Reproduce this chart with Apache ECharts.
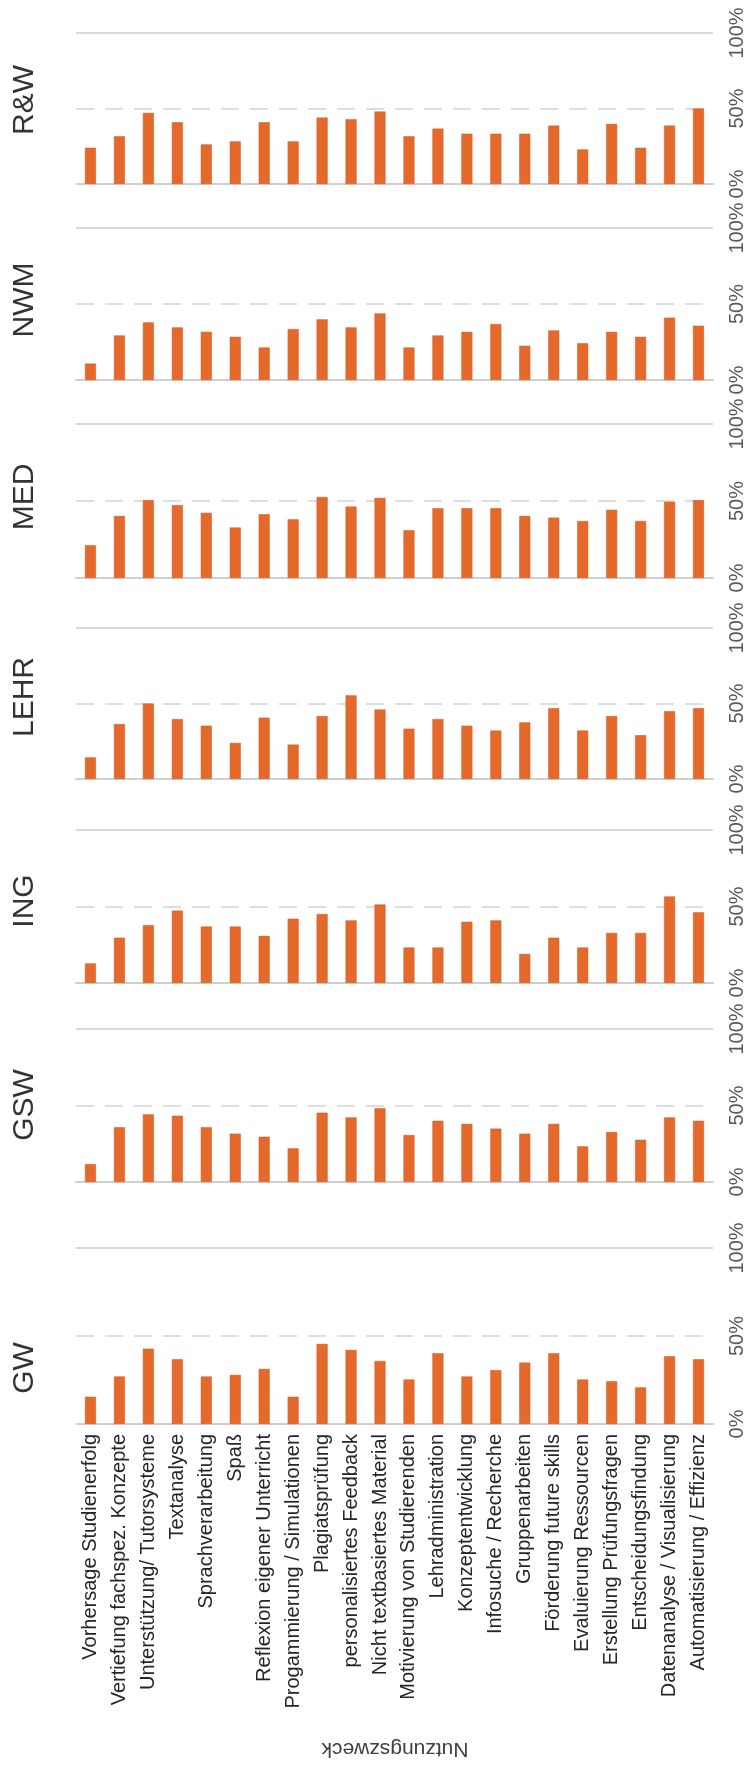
<!DOCTYPE html>
<html>
<head>
<meta charset="utf-8">
<script src="https://cdn.jsdelivr.net/npm/echarts@6/dist/echarts.min.js"></script>
<style>
html,body{margin:0;padding:0;background:#fff;}
#chart{width:750px;height:1766px;}
</style>
</head>
<body>
<div id="chart"></div>
<script>
const categories = [
  "Vorhersage Studienerfolg",
  "Vertiefung fachspez. Konzepte",
  "Unterstützung/ Tutorsysteme",
  "Textanalyse",
  "Sprachverarbeitung",
  "Spaß",
  "Reflexion eigener Unterricht",
  "Progammierung / Simulationen",
  "Plagiatsprüfung",
  "personalisiertes Feedback",
  "Nicht textbasiertes Material",
  "Motivierung von Studierenden",
  "Lehradministration",
  "Konzeptentwicklung",
  "Infosuche / Recherche",
  "Gruppenarbeiten",
  "Förderung future skills",
  "Evaluierung Ressourcen",
  "Erstellung Prüfungsfragen",
  "Entscheidungsfindung",
  "Datenanalyse / Visualisierung",
  "Automatisierung / Effizienz"
];

const panelNames = ["R&W", "NWM", "MED", "LEHR", "ING", "GSW", "GW"];

const valuesRW   = [24, 31.6, 47.1, 40.9, 26.2, 28.2, 40.9, 28.2, 44.0, 42.9, 48.0, 31.6, 36.7, 33.3, 33.3, 33.3, 38.7, 22.9, 39.8, 24.0, 38.7, 50.0];
const valuesNWM  = [10.8, 29.3, 37.9, 34.6, 31.7, 28.4, 21.4, 33.5, 39.9, 34.6, 43.8, 21.4, 29.3, 31.7, 36.8, 22.5, 32.6, 24.2, 31.7, 28.4, 41.0, 35.7];
const valuesMED  = [21.3, 40.3, 50.6, 47.3, 42.3, 32.8, 41.4, 38.1, 52.6, 46.4, 52.0, 31.0, 45.3, 45.3, 45.3, 40.3, 39.2, 37.0, 44.3, 37.0, 49.5, 50.6];
const valuesLEHR = [14.3, 36.4, 50.0, 39.7, 35.3, 23.9, 40.6, 22.8, 41.7, 55.4, 46.0, 33.3, 39.7, 35.3, 32.1, 37.5, 46.9, 32.1, 41.7, 29.0, 44.9, 46.9];
const valuesING  = [12.8, 29.6, 37.8, 47.3, 36.9, 36.9, 30.8, 42.0, 45.1, 40.9, 51.3, 23.2, 23.2, 40.0, 40.9, 19.0, 29.6, 23.2, 32.7, 32.7, 56.6, 46.2];
const valuesGSW  = [11.7, 35.8, 44.2, 43.3, 35.8, 31.6, 29.6, 22.0, 45.3, 42.2, 48.2, 30.7, 40.0, 38.0, 34.9, 31.6, 38.0, 23.3, 32.7, 27.6, 42.2, 40.0];
const valuesGW   = [15.5, 27.0, 42.8, 36.8, 27.0, 27.9, 31.3, 15.5, 45.5, 42.1, 35.8, 25.3, 40.2, 27.0, 30.6, 34.9, 40.2, 25.3, 24.3, 20.8, 38.5, 36.8];

const panelValues = [valuesRW, valuesNWM, valuesMED, valuesLEHR, valuesING, valuesGSW, valuesGW];

const yMin = 0, yMax = 100, yInterval = 50;
const topLineValue = [100];
const axisTitle = "Nutzungszweck";

// layout (pixels)
const gridTops    = [33, 228, 424, 628, 830, 1029, 1248];
const gridHeights = [151, 152, 154, 151, 153, 153, 176];
const labelCenters = [100, 300, 497, 697, 901, 1105, 1368];

const FONT = "'Liberation Sans', Arial, Helvetica, sans-serif";
const BAR = "#E4692A";

const grids = [], xAxes = [], yAxes = [], series = [], graphics = [];
panelValues.forEach((vals, i) => {
  const last = i === panelValues.length - 1;
  grids.push({ left: 76, right: 37, top: gridTops[i], height: gridHeights[i], containLabel: false });
  xAxes.push({
    type: 'category', gridIndex: i, data: categories,
    axisTick: { show: false },
    axisLine: { show: true, lineStyle: { color: '#cfcfcf', width: 2 } },
    axisLabel: last ? {
      show: true, interval: 0, rotate: 90, margin: 10,
      fontSize: 20, fontFamily: FONT, color: '#262626'
    } : { show: false },
    splitLine: { show: false }
  });
  yAxes.push({
    type: 'value', gridIndex: i, position: 'right',
    min: yMin, max: yMax, interval: yInterval,
    axisLine: { show: false }, axisTick: { show: false },
    axisLabel: {
      show: true, rotate: 90, margin: 14, formatter: '{value}%',
      fontSize: 20, fontFamily: FONT, color: '#595959'
    },
    splitLine: { show: true, lineStyle: { color: '#d4d4d4', width: 1.5, type: [18, 11] } }
  });
  series.push({
    type: 'bar', xAxisIndex: i, yAxisIndex: i, data: vals,
    barWidth: '38%',
    itemStyle: { color: BAR, borderColor: '#D35A1E', borderWidth: 0.5 },
    markLine: {
      silent: true, symbol: 'none', animation: false,
      label: { show: false },
      lineStyle: { type: 'solid', color: '#d9d9d9', width: 2 },
      data: topLineValue.map(v => ({ yAxis: v }))
    }
  });
  graphics.push({
    type: 'text', x: 25, y: labelCenters[i], rotation: Math.PI / 2,
    style: {
      text: panelNames[i], fontSize: 30, fontFamily: FONT, fill: '#333333',
      textAlign: 'center', textVerticalAlign: 'middle'
    }
  });
});

graphics.push({
  type: 'text', x: 395, y: 1749, rotation: Math.PI,
  style: {
    text: axisTitle, fontSize: 21, fontFamily: FONT, fill: '#404040',
    textAlign: 'center', textVerticalAlign: 'middle'
  }
});

const chart = echarts.init(document.getElementById('chart'), null, { renderer: 'canvas' });
chart.setOption({
  animation: false,
  backgroundColor: '#ffffff',
  grid: grids,
  xAxis: xAxes,
  yAxis: yAxes,
  series: series,
  graphic: graphics
});
</script>
</body>
</html>
